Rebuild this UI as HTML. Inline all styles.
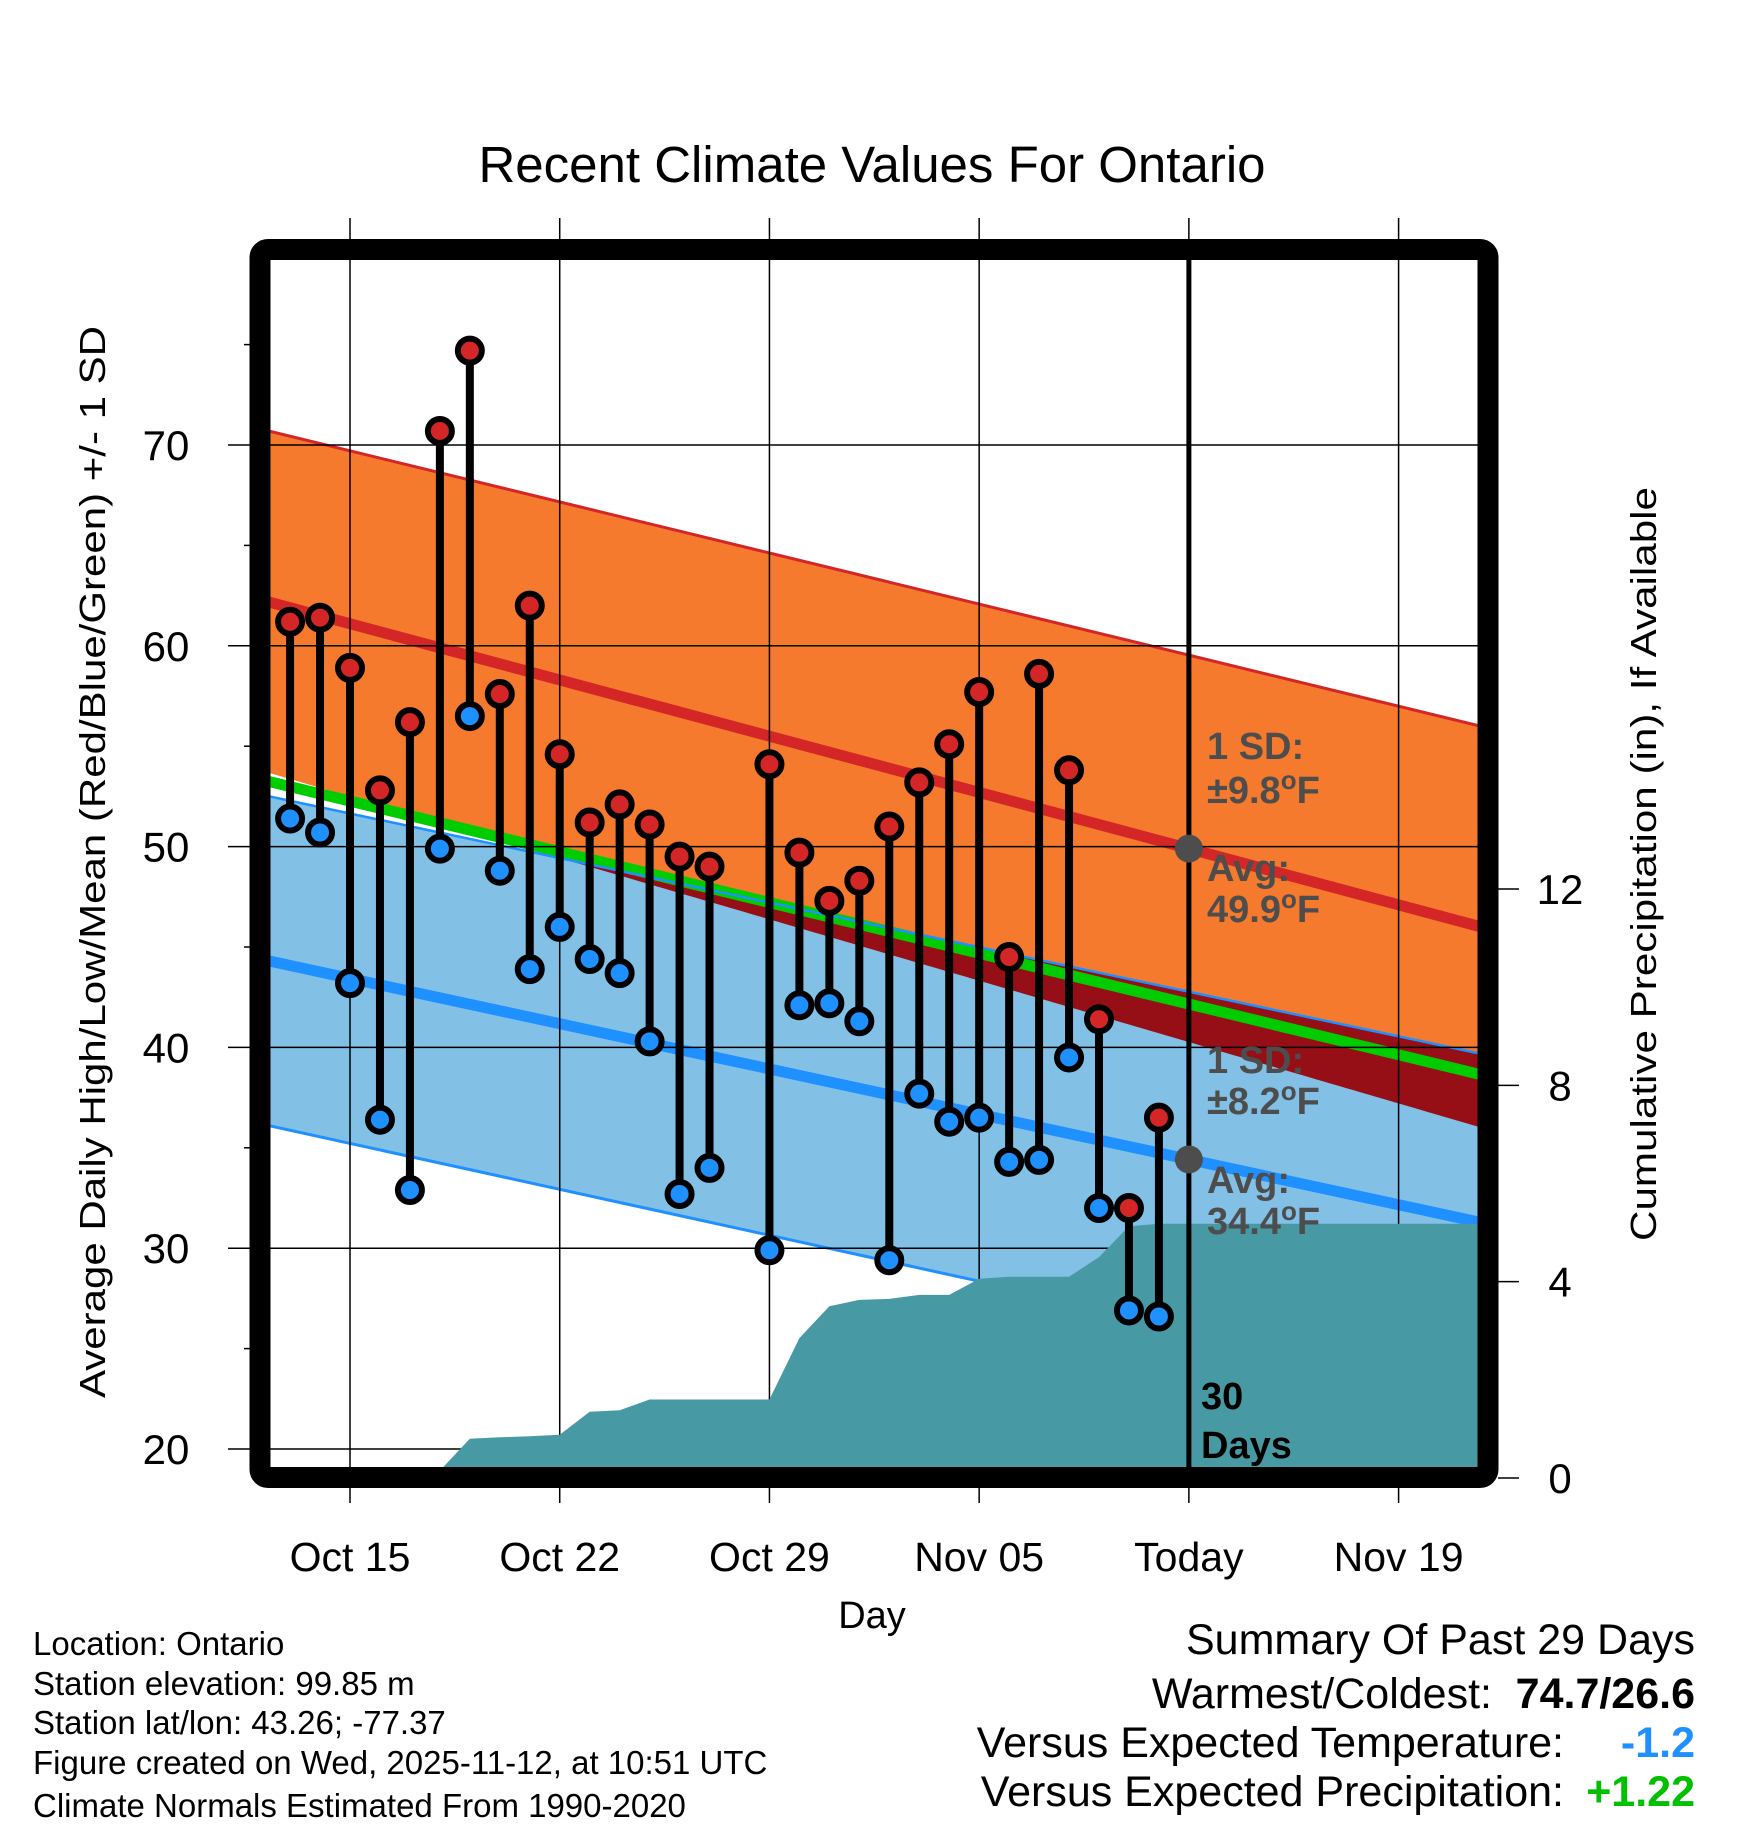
<!DOCTYPE html>
<html><head><meta charset="utf-8">
<style>
html,body{margin:0;padding:0;background:#fff;}
svg{display:block;font-family:"Liberation Sans",Arial,sans-serif;}
</style></head>
<body>
<svg id="chart" width="1748" height="1828" viewBox="0 0 1748 1828" xmlns="http://www.w3.org/2000/svg">
<defs><clipPath id="plotclip"><rect x="270" y="260" width="1208" height="1208"/></clipPath></defs>
<rect width="1748" height="1828" fill="#fff"/>
<text x="872" y="182" font-size="51" text-anchor="middle">Recent Climate Values For Ontario</text>
<g id="bands" clip-path="url(#plotclip)"></g>
<g id="grid"></g>
<g id="precip" clip-path="url(#plotclip)"></g>
<g id="today"></g>
<g id="marks"></g>
<rect x="260" y="249.5" width="1228" height="1228" fill="none" stroke="#000" stroke-width="21" rx="8"/>
<g id="axes"></g>
<text transform="translate(105,862) rotate(-90)" font-size="36" text-anchor="middle" textLength="1072" lengthAdjust="spacingAndGlyphs">Average Daily High/Low/Mean (Red/Blue/Green) +/- 1 SD</text>
<text transform="translate(1656,864) rotate(-90)" font-size="36" text-anchor="middle" textLength="754" lengthAdjust="spacingAndGlyphs">Cumulative Precipitation (in), If Available</text>
<text x="872" y="1628" font-size="38" text-anchor="middle">Day</text>
<g font-size="33">
<text x="33" y="1655">Location: Ontario</text>
<text x="33" y="1695">Station elevation: 99.85 m</text>
<text x="33" y="1734">Station lat/lon: 43.26; -77.37</text>
<text x="33" y="1774">Figure created on Wed, 2025-11-12, at 10:51 UTC</text>
<text x="33" y="1817">Climate Normals Estimated From 1990-2020</text>
</g>
<g font-size="43">
<text x="1695" y="1654" text-anchor="end">Summary Of Past 29 Days</text>
<text x="1492" y="1708" text-anchor="end">Warmest/Coldest:</text>
<text x="1695" y="1708" text-anchor="end" font-weight="bold">74.7/26.6</text>
<text x="1564" y="1757" text-anchor="end">Versus Expected Temperature:</text>
<text x="1695" y="1757" text-anchor="end" font-weight="bold" fill="#1e90ff">-1.2</text>
<text x="1564" y="1806" text-anchor="end">Versus Expected Precipitation:</text>
<text x="1695" y="1806" text-anchor="end" font-weight="bold" fill="#00c000">+1.22</text>
</g>
</svg>
<script>
// ---- data ----
const dayOffsets = [-2,-1,0,1,2,3,4,5,6,7,8,9,10,11,12,14,15,16,17,18,19,20,21,22,23,24,25,26,27];
const highs = [61.2,61.4,58.9,52.8,56.2,70.7,74.7,57.6,62.0,54.6,51.2,52.1,51.1,49.5,49.0,54.1,49.7,47.3,48.3,51.0,53.2,55.1,57.7,44.5,58.6,53.8,41.4,32.0,36.5];
const lows  = [51.4,50.7,43.2,36.4,32.9,49.9,56.5,48.8,43.9,46.0,44.4,43.7,40.3,32.7,34.0,29.9,42.1,42.2,41.3,29.4,37.7,36.3,36.5,34.3,34.4,39.5,32.0,26.9,26.6];
const precipDays = [-3,2,3,4,5,6,7,8,9,10,14,15,16,17,18,19,20,21,22,23,24,25,26,27,38];
const precipCum  = [0,0,0.15,0.8,0.83,0.85,0.88,1.35,1.38,1.6,1.6,2.85,3.5,3.63,3.65,3.73,3.73,4.06,4.1,4.1,4.1,4.5,5.13,5.18,5.18];
const normDays = [-3,38];
const normHigh = [62.3,45.9];
const normHighUpper = [70.8,55.9];
const normLow  = [44.4,31.2];
const normLowUpper = [52.6,39.6];
const todayDay = 28;
const yTicks = [20,30,40,50,60,70];
const yMinor = [25,35,45,55,65,75];
const y2Ticks = [0,4,8,12];
const xTickDays = [0,7,14,21,28,35];
const xTickLabels = ["Oct 15","Oct 22","Oct 29","Nov 05","Today","Nov 19"];

// ---- scales ----
const X = d => 350 + d*29.96;
const Y = t => 445 + (70 - t)*20.08;
const Y2 = p => 1478 - p*49.08;
const NS = "http://www.w3.org/2000/svg";
function mk(tag, attrs, parent){const e=document.createElementNS(NS,tag);for(const k in attrs)e.setAttribute(k,attrs[k]);parent.appendChild(e);return e;}
const lerp=(arr,d)=>arr[0]+(arr[1]-arr[0])*(d-normDays[0])/(normDays[1]-normDays[0]);
const d0=normDays[0], d1=normDays[1];
const pts = f => [d0,d1].map(d=>X(d)+","+Y(f(d)));

const bands=document.getElementById('bands');
const hiU=d=>lerp(normHighUpper,d), hiL=d=>2*lerp(normHigh,d)-lerp(normHighUpper,d);
const loU=d=>lerp(normLowUpper,d), loL=d=>2*lerp(normLow,d)-lerp(normLowUpper,d);
let e;
e=mk('polygon',{points:pts(hiU).concat(pts(hiL).reverse()).join(' '),fill:'#f57a2e'},bands);


e=mk('polygon',{points:pts(loU).concat(pts(loL).reverse()).join(' '),fill:'#82c0e6'},bands);


const ov=[];
for(let d=d0; d<=d1+0.001; d+=0.25){ if(loU(d)>hiL(d)) ov.push([d,loU(d),hiL(d)]); }
if(ov.length){
  const top=ov.map(o=>X(o[0])+","+Y(o[1])), bot=ov.map(o=>X(o[0])+","+Y(o[2])).reverse();
  e=mk('polygon',{points:top.concat(bot).join(' '),fill:'#960f16'},bands);
  
  
}
e=mk('polyline',{points:pts(d=>(lerp(normHigh,d)+lerp(normLow,d))/2).join(' '),stroke:'#00cc00','stroke-width':11,fill:'none'},bands);


e=mk('polyline',{points:pts(hiU).join(' '),stroke:'#d42626','stroke-width':3,fill:'none'},bands);


e=mk('polyline',{points:pts(d=>lerp(normHigh,d)).join(' '),stroke:'#d42626','stroke-width':11,fill:'none'},bands);


e=mk('polyline',{points:pts(loU).join(' '),stroke:'#1e90ff','stroke-width':2.5,fill:'none'},bands);


e=mk('polyline',{points:pts(loL).join(' '),stroke:'#1e90ff','stroke-width':3,fill:'none'},bands);


e=mk('polyline',{points:pts(d=>lerp(normLow,d)).join(' '),stroke:'#1e90ff','stroke-width':11,fill:'none'},bands);



// grid
const grid=document.getElementById('grid');
xTickDays.forEach(d=>{
  e=mk('line',{x1:X(d),x2:X(d),y1:218,y2:1503,stroke:'#000','stroke-width':1.5},grid);
  
  
});
yTicks.forEach(t=>{
  e=mk('line',{x1:228,x2:1478,y1:Y(t),y2:Y(t),stroke:'#000','stroke-width':1.5},grid);
  
  
});

// precip
const pr=document.getElementById('precip');
let pp=precipDays.map((d,i)=>X(d)+","+Y2(precipCum[i]));
pp.push(X(precipDays[precipDays.length-1])+","+Y2(-1));
pp.push(X(precipDays[0])+","+Y2(-1));
e=mk('polygon',{points:pp.join(' '),fill:'#479aa3'},pr);



// today
const tg=document.getElementById('today');
e=mk('line',{x1:X(todayDay),x2:X(todayDay),y1:260,y2:1468,stroke:'#000','stroke-width':5},tg);


[lerp(normHigh,todayDay),lerp(normLow,todayDay)].forEach(v=>{
  e=mk('circle',{cx:X(todayDay),cy:Y(v),r:14,fill:'#4d4d4d'},tg);
  
  
});
const labels=[["1 SD:",759],["±9.8","°",803],["Avg:",881],["49.9","°",922],["1 SD:",1073],["±8.2","°",1114],["Avg:",1193],["34.4","°",1234]];
labels.forEach(l=>{
  e=mk('text',{x:1207,y:l[l.length-1],'font-size':38,'font-weight':'bold',fill:'#4d4d4d'},tg);
  if(l.length===3){
    e.appendChild(document.createTextNode(l[0]));
    const s=mk('tspan',{'font-size':26,dy:-14},e); s.textContent='o';
    const f=mk('tspan',{dy:14},e); f.textContent='F';
  } else e.textContent=l[0];
  
  
});
[["30",1409],["Days",1458]].forEach(l=>{
  e=mk('text',{x:1201,y:l[1],'font-size':38,'font-weight':'bold',fill:'#000'},tg);
  e.textContent=l[0];
  
  
});

// marks
const mg=document.getElementById('marks');
dayOffsets.forEach((d,i)=>{
  e=mk('line',{x1:X(d),x2:X(d),y1:Y(highs[i]),y2:Y(lows[i]),stroke:'#000','stroke-width':8},mg);
  
  
});
dayOffsets.forEach((d,i)=>{
  [[highs[i],'#d42626','high-marker'],[lows[i],'#1e90ff','low-marker']].forEach(m=>{
    e=mk('circle',{cx:X(d),cy:Y(m[0]),r:12,fill:m[1],stroke:'#000','stroke-width':6},mg);
    
    
  });
});

// axes
const ax=document.getElementById('axes');
yTicks.forEach(t=>{
  e=mk('text',{x:166,y:Y(t)+15,'font-size':42,'text-anchor':'middle'},ax);
  e.textContent=t;
  
  
});
yMinor.forEach(t=>{
  e=mk('line',{x1:244,x2:250,y1:Y(t),y2:Y(t),stroke:'#000','stroke-width':1.5},ax);
  
  
});
y2Ticks.forEach(p=>{
  e=mk('line',{x1:1498,x2:1519,y1:Y2(p),y2:Y2(p),stroke:'#000','stroke-width':1.5},ax);
  
  
  e=mk('text',{x:1560,y:Y2(p)+15,'font-size':42,'text-anchor':'middle'},ax);
  e.textContent=p;
  
  
});
xTickDays.forEach((d,i)=>{
  e=mk('text',{x:X(d),y:1571,'font-size':41,'text-anchor':'middle'},ax);
  e.textContent=xTickLabels[i];
  
  
});
</script>
</body></html>
